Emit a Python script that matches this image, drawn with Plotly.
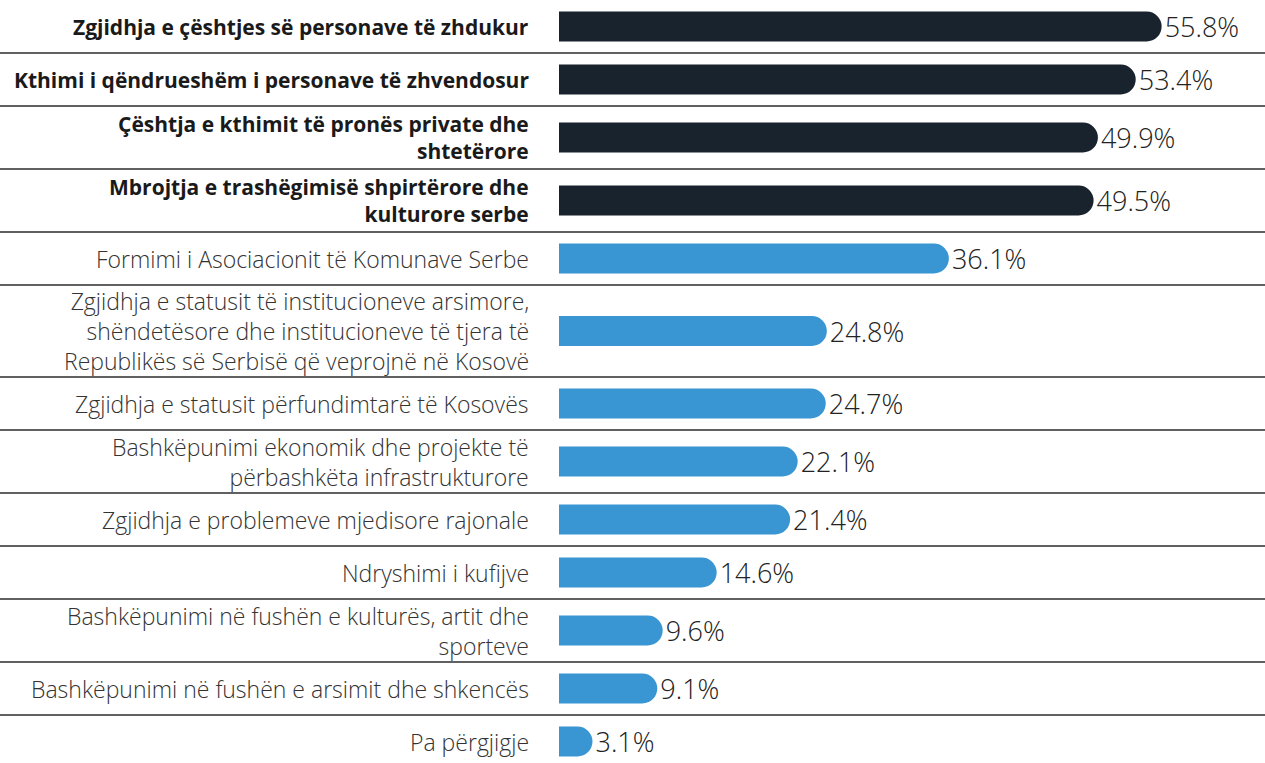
import plotly.graph_objects as go

categories = [
    "Zgjidhja e çështjes së personave të zhdukur",
    "Kthimi i qëndrueshëm i personave të zhvendosur",
    "Çështja e kthimit të pronës private dhe<br>shtetërore",
    "Mbrojtja e trashëgimisë shpirtërore dhe<br>kulturore serbe",
    "Formimi i Asociacionit të Komunave Serbe",
    "Zgjidhja e statusit të institucioneve arsimore,<br>shëndetësore dhe institucioneve të tjera të<br>Republikës së Serbisë që veprojnë në Kosovë",
    "Zgjidhja e statusit përfundimtarë të Kosovës",
    "Bashkëpunimi ekonomik dhe projekte të<br>përbashkëta infrastrukturore",
    "Zgjidhja e problemeve mjedisore rajonale",
    "Ndryshimi i kufijve",
    "Bashkëpunimi në fushën e kulturës, artit dhe<br>sporteve",
    "Bashkëpunimi në fushën e arsimit dhe shkencës",
    "Pa përgjigje",
]
values = [55.8, 53.4, 49.9, 49.5, 36.1, 24.8, 24.7, 22.1, 21.4, 14.6, 9.6, 9.1, 3.1]
highlighted = [True, True, True, True, False, False, False, False, False, False, False, False, False]

# layout: row heights depend on number of label lines
W, H = 1265, 763
ROW_H = {1: 53, 2: 63, 3: 92}
PLOT_LEFT = 559
LABEL_RIGHT = 531
PX_PER_PCT = 10.8
DARK = "#19232d"
BLUE = "#3996d3"
FONT = "Open Sans"

lines = [c.count("<br>") + 1 for c in categories]
centers, bounds = [], []
top = 0
for n in lines:
    h = ROW_H[n]
    centers.append(top + h / 2)
    top += h
    bounds.append(top)

colors = [DARK if h else BLUE for h in highlighted]
texts = [f"{v:.1f}%" for v in values]

fig = go.Figure(go.Bar(
    x=values, y=centers, orientation="h", width=30,
    marker=dict(color=colors, line=dict(width=0)),
    text=texts, textposition="outside", constraintext="none", cliponaxis=False,
    textfont=dict(family=FONT, size=27, color="#222222", weight=300),
    hoverinfo="skip",
))

shapes = []
for b in bounds[:-1]:
    shapes.append(dict(type="line", xref="paper", yref="y", x0=0, x1=1, y0=b, y1=b,
                       line=dict(color="#2b2b2b", width=1.5)))

annotations = []
for c, yc, hl in zip(categories, centers, highlighted):
    annotations.append(dict(
        x=LABEL_RIGHT / W, xref="paper", y=yc, yref="y", text=c, showarrow=False,
        xanchor="right", yanchor="middle", align="right",
        font=dict(family=FONT, size=21 if hl else 23, color="#1a1a1a" if hl else "#333333",
                  weight=700 if hl else 300),
    ))

fig.update_layout(
    width=W, height=H,
    margin=dict(l=0, r=0, t=0, b=0),
    paper_bgcolor="white", plot_bgcolor="white",
    barcornerradius=15,
    showlegend=False,
    xaxis=dict(domain=[PLOT_LEFT / W, 1], range=[0, (W - PLOT_LEFT) / PX_PER_PCT], visible=False, fixedrange=True),
    yaxis=dict(range=[H, 0], visible=False, fixedrange=True),
    shapes=shapes, annotations=annotations,
)

fig.write_html("out.html", config={"displayModeBar": False},
               post_script="document.body.style.margin='0';")
